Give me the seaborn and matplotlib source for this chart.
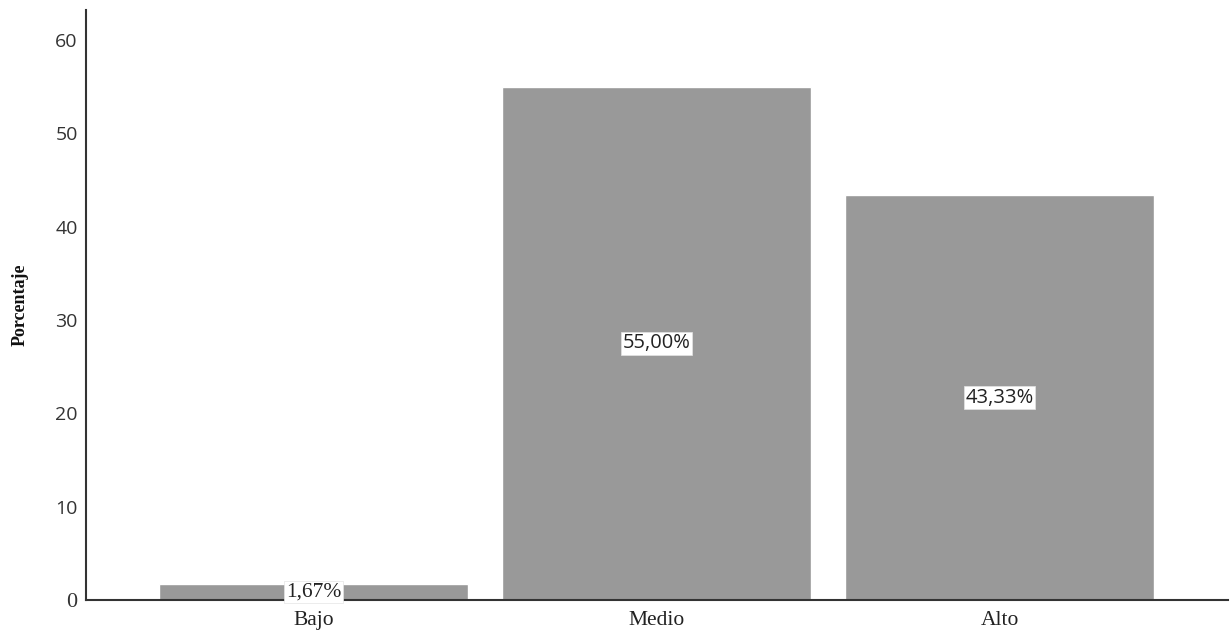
import seaborn as sns
import matplotlib.pyplot as plt
import pandas as pd

# Datos del grafico
categorias = ['Bajo', 'Medio', 'Alto']
porcentajes = [1.67, 55.00, 43.33]
etiquetas = ['1,67%', '55,00%', '43,33%']
ticks_y = [0, 10, 20, 30, 40, 50, 60]

df = pd.DataFrame({'nivel': categorias, 'porcentaje': porcentajes})

sns.set_style('white')
serif = ['Liberation Serif', 'DejaVu Serif']
sans = ['Open Sans', 'DejaVu Sans']

fig = plt.figure(figsize=(12.32, 6.32), dpi=100)
ax = fig.add_axes([0.0698, 0.0506, 0.927, 0.9336])

sns.barplot(x='nivel', y='porcentaje', data=df, color='#999999',
            saturation=1, width=0.9, ax=ax)

ax.set_xlim(-0.663, 2.666)
ax.set_ylim(0, 63.2)
ax.set_yticks(ticks_y)

# etiquetas de valor en el centro de cada barra
for i, (v, txt) in enumerate(zip(porcentajes, etiquetas)):
    fam = serif if i == 0 else sans
    size = 15.5 if i == 0 else 14.5
    ax.text(i, v / 2, txt, ha='center', va='center', fontsize=size,
            family=fam, color='#222222', zorder=5,
            bbox=dict(facecolor='white', edgecolor='#e4e4e4', pad=1.2, linewidth=0.5))

for s in ['top', 'right']:
    ax.spines[s].set_visible(False)
for s in ['left', 'bottom']:
    ax.spines[s].set_color('#333333')
    ax.spines[s].set_linewidth(1.5)

ax.tick_params(axis='both', length=0)
ax.tick_params(axis='y', pad=6)
ax.tick_params(axis='x', pad=8)
ax.set_xticks(range(len(categorias)))
ax.set_xticklabels(categorias, family=serif, fontsize=15.5, color='#222222')
ax.set_yticklabels([str(t) for t in ticks_y], family=sans, fontsize=14, color='#333333')
ax.get_yticklabels()[0].set_family(serif)
ax.get_yticklabels()[0].set_fontsize(16)

ax.set_xlabel('')
ax.set_ylabel('Porcentaje', family=serif, fontsize=13, fontweight='bold',
              color='#111111', labelpad=19)

plt.savefig('out.png', dpi=100)
